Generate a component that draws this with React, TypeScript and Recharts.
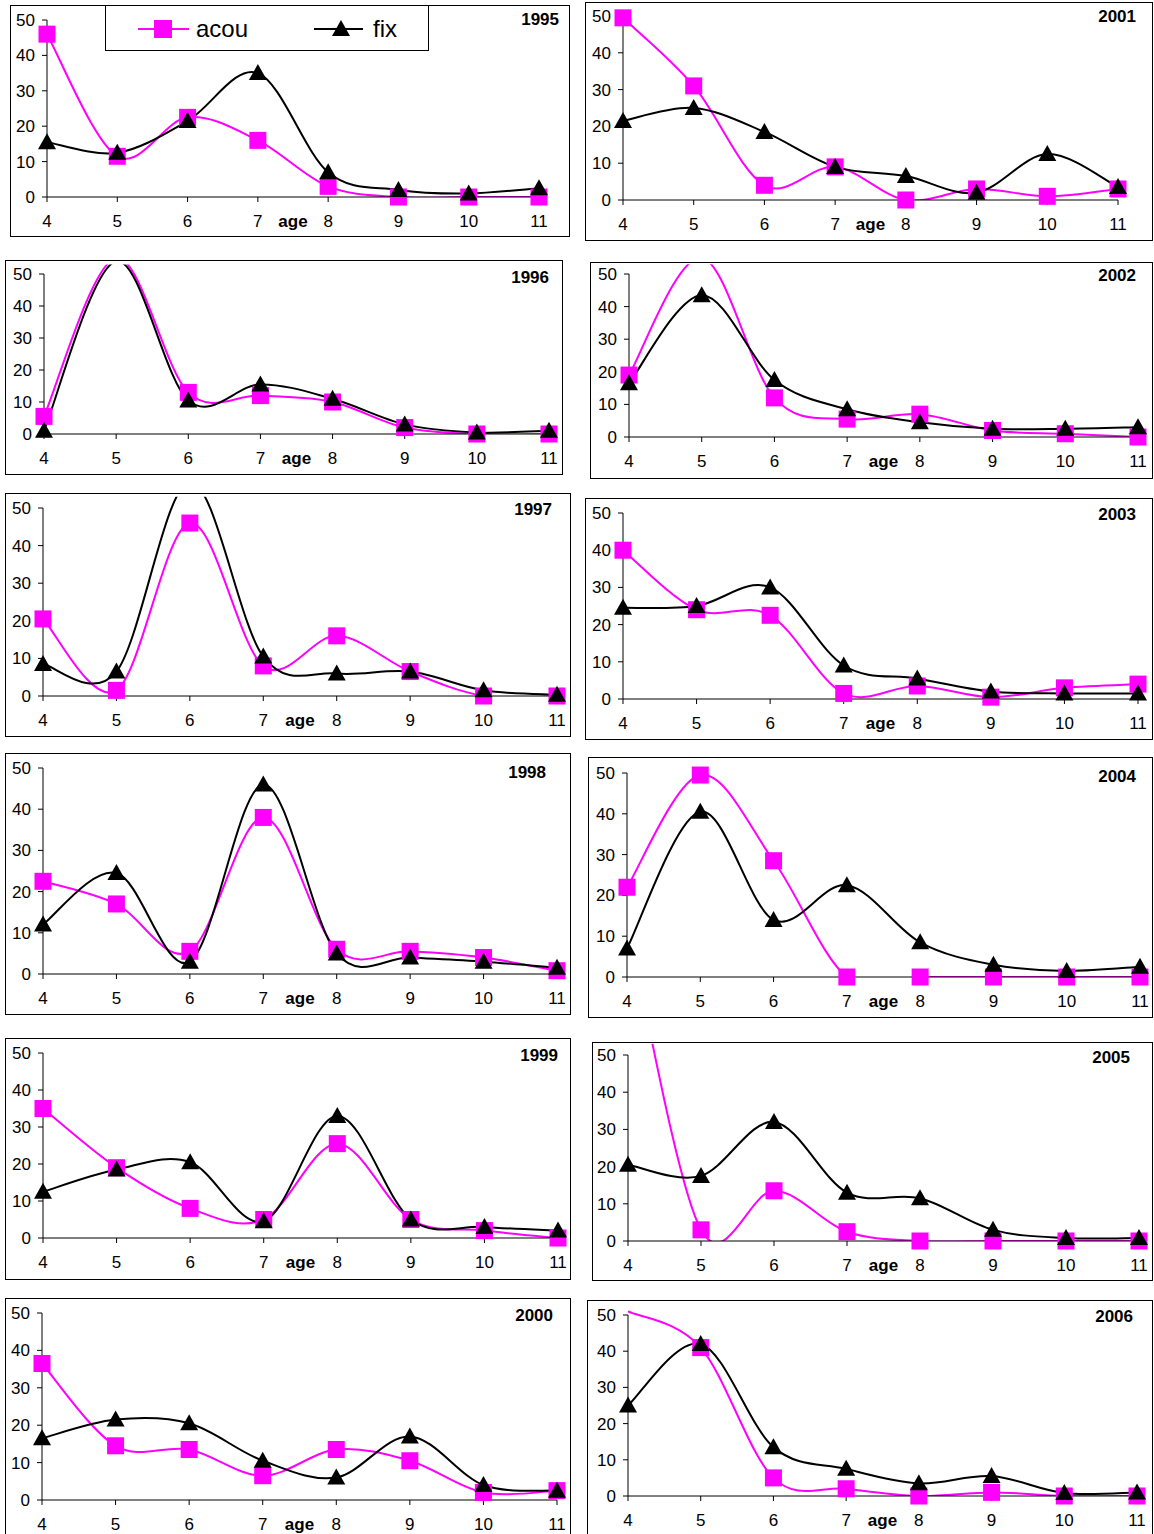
import React from 'react'
import { LineChart, Line, XAxis, YAxis, ReferenceLine, Label } from 'recharts'

const ages = [4, 5, 6, 7, 8, 9, 10, 11]
const yTicks = [0, 10, 20, 30, 40, 50]
const seriesNames = ['acou', 'fix']

const acou1995 = [46, 11.5, 22.5, 16, 3, 0, 0, 0]
const fix1995 = [15.5, 12.5, 21.5, 35, 7, 2, 1, 2.5]
const acou1996 = [5.5, 55, 13, 12, 10, 2, 0, 0]
const fix1996 = [1, 54, 10.5, 15.5, 11, 3, 0.5, 1]
const acou1997 = [20.5, 1.5, 46, 8, 16, 6.5, 0, 0]
const fix1997 = [8.5, 6.5, 57, 10.5, 6, 6.5, 1.5, 0.3]
const acou1998 = [22.5, 17, 5.5, 38, 6, 5.5, 4, 0.8]
const fix1998 = [12, 24.5, 3, 46, 5, 4, 3, 1.5]
const acou1999 = [35, 19, 8, 5, 25.5, 5, 2, 0]
const fix1999 = [12.5, 18.5, 20.5, 4.5, 33, 5, 3, 2]
const acou2000 = [36.5, 14.5, 13.5, 6.5, 13.5, 10.5, 2, 2.5]
const fix2000 = [16.5, 21.5, 20.5, 10.5, 6, 17, 4, 2.5]
const acou2001 = [49.5, 31, 4, 9, 0, 3, 1, 3]
const fix2001 = [21.5, 25, 18.5, 9, 6.5, 2, 12.5, 3.5]
const acou2002 = [19, 55, 12, 5.5, 7, 2, 1, 0]
const fix2002 = [16.5, 43.5, 17.5, 8.5, 4.5, 2.5, 2.5, 3]
const acou2003 = [40, 24, 22.5, 1.5, 3.5, 0.5, 3, 4]
const fix2003 = [24.5, 25, 30, 9, 5.5, 2, 1.5, 1.5]
const acou2004 = [22, 49.5, 28.5, 0, 0, 0, 0, 0]
const fix2004 = [7, 40.5, 14, 22.5, 8.5, 3, 1.5, 2.5]
const acou2005 = [85, 3, 13.5, 2.5, 0, 0, 0, 0]
const fix2005 = [20.5, 17.5, 32, 13, 11.5, 3, 0.8, 0.8]
const acou2006 = [51, 41, 5, 2, 0, 1, 0, 0]
const fix2006 = [25, 42, 13.5, 7.5, 3.5, 5.5, 0.8, 1]

const panels = [
  { year: '1995', acou: acou1995, fix: fix1995 },
  { year: '2001', acou: acou2001, fix: fix2001 },
  { year: '1996', acou: acou1996, fix: fix1996 },
  { year: '2002', acou: acou2002, fix: fix2002 },
  { year: '1997', acou: acou1997, fix: fix1997 },
  { year: '2003', acou: acou2003, fix: fix2003 },
  { year: '1998', acou: acou1998, fix: fix1998 },
  { year: '2004', acou: acou2004, fix: fix2004 },
  { year: '1999', acou: acou1999, fix: fix1999 },
  { year: '2005', acou: acou2005, fix: fix2005 },
  { year: '2000', acou: acou2000, fix: fix2000 },
  { year: '2006', acou: acou2006, fix: fix2006 },
]

// box L,T,R,B / pixel of age 4, age 11, value 50, value 0 / title right inset, title centre y
const layouts: Record<string, number[]> = {
  '1995': [10, 5, 570, 237, 47, 539, 20, 197, 10, 15],
  '2001': [585, 2, 1153, 241, 623, 1118, 16, 200, 16, 15],
  '1996': [5, 260, 563, 475, 44, 549, 274, 434, 13, 18],
  '2002': [590, 262, 1153, 479, 629, 1138, 274, 437, 16, 14],
  '1997': [5, 493, 571, 737, 43, 557, 508, 696, 18, 17],
  '2003': [585, 498, 1153, 740, 623, 1138, 513, 699, 16, 17],
  '1998': [5, 753, 571, 1015, 43, 557, 768, 974, 24, 20],
  '2004': [588, 757, 1153, 1018, 627, 1140, 773, 977, 16, 20],
  '1999': [5, 1038, 571, 1280, 43, 558, 1053, 1238, 12, 18],
  '2005': [592, 1042, 1153, 1281, 628, 1139, 1055, 1241, 22, 16],
  '2000': [5, 1298, 571, 1545, 42, 557, 1313, 1500, 17, 18],
  '2006': [587, 1300, 1153, 1545, 628, 1137, 1315, 1496, 19, 17],
}

const PINK = '#FF00FF'
const FONT = 'Arial, "Liberation Sans", sans-serif'
const TOP = 53 // plot area reaches a little above 50, lines get clipped there

// excel-like smoothed line (catmull-rom style bezier)
const excelSmooth = (ctx: any) => {
  let pts: number[][] = []
  return {
    areaStart() {},
    areaEnd() {},
    lineStart() { pts = [] },
    point(x: number, y: number) { pts.push([+x, +y]) },
    lineEnd() {
      const n = pts.length
      if (!n) return
      ctx.moveTo(pts[0][0], pts[0][1])
      for (let i = 0; i < n - 1; i++) {
        const p0 = pts[Math.max(i - 1, 0)]
        const p1 = pts[i]
        const p2 = pts[i + 1]
        const p3 = pts[Math.min(i + 2, n - 1)]
        ctx.bezierCurveTo(
          p1[0] + (p2[0] - p0[0]) / 6, p1[1] + (p2[1] - p0[1]) / 6,
          p2[0] - (p3[0] - p1[0]) / 6, p2[1] - (p3[1] - p1[1]) / 6,
          p2[0], p2[1],
        )
      }
    },
  }
}

const squareDot = (p: any) => {
  if (p.cx == null || p.cy == null || p.value == null) return <g key={p.index} />
  return <rect key={p.index} x={p.cx - 8.5} y={p.cy - 8.5} width={17} height={17} fill={PINK} />
}

const triangleDot = (p: any) => {
  if (p.cx == null || p.cy == null || p.value == null) return <g key={p.index} />
  const { cx, cy } = p
  return <path key={p.index} d={`M${cx},${cy - 9}L${cx + 9},${cy + 7}L${cx - 9},${cy + 7}Z`} fill="#000" />
}

const mark = (v: number) => (v > 50 ? null : v)

function Panel({ year, acou, fix }: { year: string; acou: number[]; fix: number[] }) {
  const [L, T, R, B, x4, x11, y50, y0, tr, ty] = layouts[year]
  const w = R - L
  const h = B - T
  const plotTop = y50 - ((TOP - 50) * (y0 - y50)) / 50
  const data = ages.map((age, i) => ({
    age,
    acou: acou[i],
    fix: fix[i],
    acouMark: mark(acou[i]),
    fixMark: mark(fix[i]),
  }))
  const tick = { fill: '#000', fontSize: 17, fontFamily: FONT }
  return (
    <div style={{ position: 'absolute', left: L, top: T, width: w, height: h, border: '1px solid #000', boxSizing: 'border-box' }}>
      <div style={{ position: 'absolute', left: -1, top: -1 }}>
        <LineChart
          width={w}
          height={h}
          data={data}
          margin={{ left: x4 - L - 30, right: R - x11, top: plotTop - T, bottom: B - y0 - 30 }}
        >
          <XAxis
            dataKey="age" type="number" domain={[4, 11]} ticks={ages} interval={0}
            tickSize={5} tickMargin={13} height={30} stroke="#000" tick={tick}
          >
            <Label value="age" position="insideTop" offset={18} fontWeight="bold" fontSize={17} fill="#000" fontFamily={FONT} />
          </XAxis>
          <YAxis
            domain={[0, TOP]} ticks={yTicks} interval={0} allowDataOverflow width={30}
            tickSize={5} tickMargin={7} axisLine={false} stroke="#000" tick={tick}
          />
          <YAxis yAxisId="m" hide domain={[0, TOP]} />
          <ReferenceLine segment={[{ x: 4, y: 0 }, { x: 4, y: 50 }]} stroke="#000" />
          <Line dataKey="acou" name={seriesNames[0]} type={excelSmooth as any} stroke={PINK} strokeWidth={2} dot={false} activeDot={false} isAnimationActive={false} />
          <Line dataKey="acouMark" yAxisId="m" stroke="none" dot={squareDot} activeDot={false} isAnimationActive={false} />
          <Line dataKey="fix" name={seriesNames[1]} type={excelSmooth as any} stroke="#000" strokeWidth={2} dot={false} activeDot={false} isAnimationActive={false} />
          <Line dataKey="fixMark" yAxisId="m" stroke="none" dot={triangleDot} activeDot={false} isAnimationActive={false} />
        </LineChart>
      </div>
      <div style={{ position: 'absolute', right: tr, top: ty - 11, fontSize: 17, fontWeight: 'bold', fontFamily: FONT, lineHeight: '20px' }}>
        {year}
      </div>
      {year === '1995' && (
        <svg width={322} height={44} style={{ position: 'absolute', left: 94, top: -1, border: '1px solid #000', background: '#fff' }}>
          <line x1={32} y1={23} x2={83} y2={23} stroke={PINK} strokeWidth={2} />
          <rect x={48} y={14} width={18} height={18} fill={PINK} />
          <text x={90} y={31} fontSize={24} fontFamily={FONT}>{seriesNames[0]}</text>
          <line x1={208} y1={23} x2={257} y2={23} stroke="#000" strokeWidth={2} />
          <path d="M235,14L244,30L226,30Z" fill="#000" />
          <text x={267} y={31} fontSize={24} fontFamily={FONT}>{seriesNames[1]}</text>
        </svg>
      )}
    </div>
  )
}

export default function App() {
  return (
    <div style={{ position: 'absolute', left: 0, top: 0, width: 1154, height: 1534, overflow: 'hidden', background: '#fff', fontFamily: FONT }}>
      {panels.map(p => (
        <Panel key={p.year} {...p} />
      ))}
    </div>
  )
}
